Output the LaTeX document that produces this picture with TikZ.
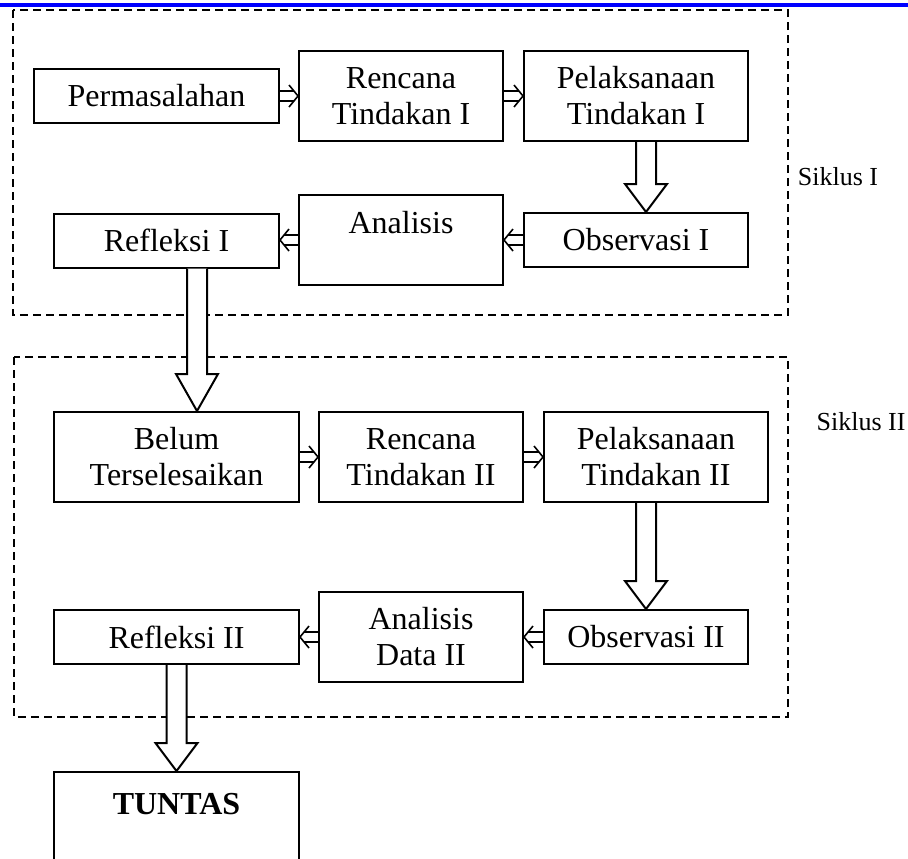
\documentclass[tikz,border=0pt]{standalone}
\usepackage{fontspec}
\setmainfont{Liberation Serif}
\usetikzlibrary{calc}

% hollow block arrow, drawn down from the first node to the second
\newcommand{\bigarrow}[3][14pt]{%
  \draw[bigarr] let \p1=(#2), \p2=(#3) in
    (\x2-5pt,\y1) -- (\x2-5pt,\y2+#1) -- (\x2-10.5pt,\y2+#1) -- (\x2,\y2)
    -- (\x2+10.5pt,\y2+#1) -- (\x2+5pt,\y2+#1) -- (\x2+5pt,\y1);}
% small double arrow between two boxes of one row
\newcommand{\smallarrow}[2]{%
  \draw[smallarr] let \p1=(#1), \p2=(#2), \n1={sign(\x2-\x1)} in
    (\x1,\y1+2.5pt) -- (\x2-\n1*2pt,\y1+2.5pt)
    (\x1,\y1-2.5pt) -- (\x2-\n1*2pt,\y1-2.5pt)
    (\x2-\n1*4.5pt,\y1+5.5pt) -- (\x2,\y1) -- (\x2-\n1*4.5pt,\y1-5.5pt);}

\begin{document}
\begin{tikzpicture}[x=0.5pt, y=-0.5pt]
    \tikzstyle{box} = [draw, line width=1pt, inner sep=0pt, align=center, font=\fontsize{16}{18}\selectfont]
    \tikzstyle{flatbox} = [box, minimum height=27pt]
    \tikzstyle{tallbox} = [box, minimum height=45pt]
    \tikzstyle{cyclebox} = [dashed, line width=1pt, dash pattern=on 4pt off 2.5pt]
    \tikzstyle{cyclelabel} = [font=\fontsize{13}{15}\selectfont]
    \tikzstyle{smallarr} = [line width=0.8pt]
    \tikzstyle{bigarr} = [line width=1pt, fill=white, line join=miter]

    \clip (0,0) rectangle (908,858);

    % page rule
    \draw[blue, line width=2pt] (0,5.3) -- (908,5.3);

    % Siklus frames
    \draw[cyclebox] (13,10) rectangle (788,315);
    \draw[cyclebox] (14,357) rectangle (788,717);
    \node[cyclelabel] (sik1) at (838,177) {Siklus I};
    \node[cyclelabel] (sik2) at (861,422) {Siklus II};

    % Siklus I
    \node[flatbox, minimum width=122.5pt] (perm) at (156.5,96) {Permasalahan};
    \node[tallbox, minimum width=102pt] (ren1) at (401,96) {Rencana\\Tindakan I};
    \node[tallbox, minimum width=112pt] (pel1) at (636,96) {Pelaksanaan\\Tindakan I};
    \node[flatbox, minimum width=112pt] (obs1) at (636,240) {Observasi I};
    \node[tallbox, minimum width=102pt] (ana1) at (401,240) {Analisis\\\mbox{}};
    \node[flatbox, minimum width=112.5pt] (ref1) at (166.5,240.5) {Refleksi I};

    \smallarrow{perm.east}{ren1.west}
    \smallarrow{ren1.east}{pel1.west}
    \smallarrow{obs1.west}{ana1.east}
    \smallarrow{ana1.west}{ref1.east}
    \bigarrow{pel1.south}{[xshift=5pt]obs1.north}

    % Siklus II
    \node[tallbox, minimum width=122.5pt] (belum) at (176.5,457) {Belum\\Terselesaikan};
    \node[tallbox, minimum width=102pt] (ren2) at (421,457) {Rencana\\Tindakan II};
    \node[tallbox, minimum width=112pt] (pel2) at (656,457) {Pelaksanaan\\Tindakan II};
    \node[flatbox, minimum width=102pt] (obs2) at (646,637) {Observasi II};
    \node[tallbox, minimum width=102pt] (ana2) at (421,637) {Analisis\\Data II};
    \node[flatbox, minimum width=122.5pt] (ref2) at (176.5,637) {Refleksi II};

    \bigarrow[18.5pt]{ref1.south}{[xshift=10.25pt]belum.north}
    \smallarrow{belum.east}{ren2.west}
    \smallarrow{ren2.east}{pel2.west}
    \smallarrow{obs2.west}{ana2.east}
    \smallarrow{ana2.west}{ref2.east}
    \bigarrow{pel2.south}{obs2.north}

    % hasil
    \node[tallbox, minimum width=122.5pt, minimum height=50pt, font=\fontsize{16}{18}\selectfont\bfseries] (tuntas) at (176.5,822) {TUNTAS\\\mbox{}};
    \bigarrow{ref2.south}{tuntas.north}
\end{tikzpicture}
\end{document}
